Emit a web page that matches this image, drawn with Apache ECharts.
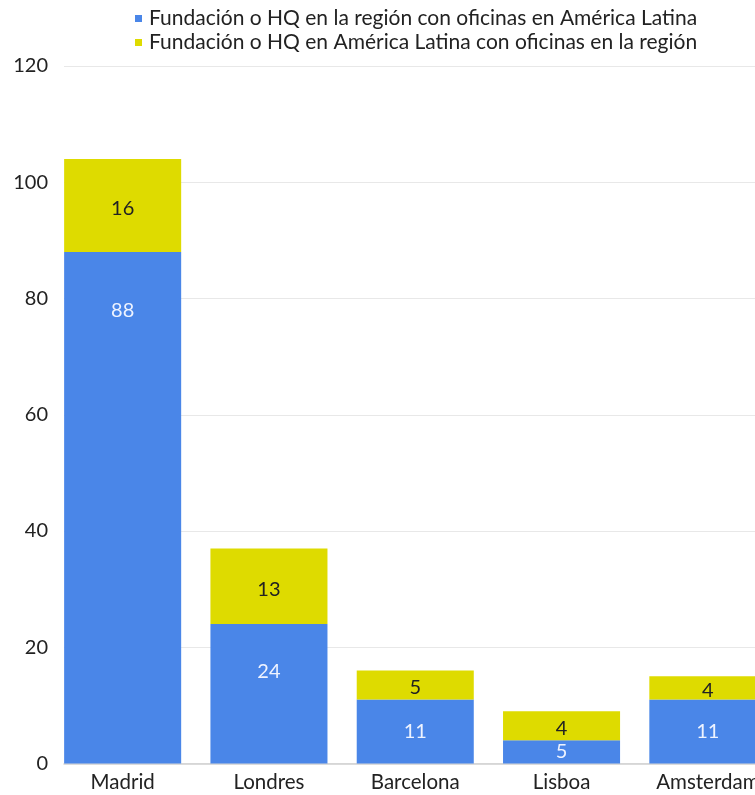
<!DOCTYPE html>
<html>
<head>
<meta charset="utf-8">
<script src="https://cdn.jsdelivr.net/npm/echarts@6/dist/echarts.min.js"></script>
<style>
html,body{margin:0;padding:0;overflow:hidden;background:#fff;width:755px;height:795px;}
#c{width:830px;height:795px;}
</style>
</head>
<body>
<div id="c"></div>
<script>
const categories = ['Madrid', 'Londres', 'Barcelona', 'Lisboa', 'Amsterdam'];
const seriesNames = ['Fundación o HQ en la región con oficinas en América Latina',
                     'Fundación o HQ en América Latina con oficinas en la región'];
const blueValues = [88, 24, 11, 4, 11];
const yellowValues = [16, 13, 5, 5, 4];
const blueLabels = ['88', '24', '11', '5', '11'];
const yellowLabels = ['16', '13', '5', '4', '4'];
const yTicks = [0, 20, 40, 60, 80, 100, 120];

const BLUE = '#4a86e8', YELLOW = '#dedb00';
const FONT = 'Lato';
// label vertical offsets for tall blue segments (styling only)
const blueLabelOffset = {Madrid: -197, Londres: -22};

const chart = echarts.init(document.getElementById('c'), null, {renderer: 'canvas'});
const gridTop = 66, gridBottom = 31.5;

const blueData = blueValues.map((v, i) => {
  const d = {value: v};
  const off = blueLabelOffset[categories[i]];
  if (off !== undefined) d.label = {offset: [0, off]};
  return d;
});

chart.setOption({
  animation: false,
  legend: {
    orient: 'vertical', left: 135, top: 8, padding: 0,
    itemWidth: 7, itemHeight: 7, itemGap: 3, icon: 'rect',
    textStyle: {fontFamily: FONT, fontSize: 21, color: '#222', lineHeight: 21, padding: [0, 0, 0, 2]},
    data: seriesNames
  },
  grid: [
    {left: 64, right: 0, top: gridTop, bottom: gridBottom},
    {left: 49.5, width: 731.5, top: gridTop, bottom: gridBottom}
  ],
  xAxis: [
    {type: 'value', gridIndex: 0, min: 0, max: 1, axisLine: {show: true, lineStyle: {color: '#cfcfcf', width: 1.5}},
     axisTick: {show: false}, axisLabel: {show: false}, splitLine: {show: false}},
    {type: 'category', gridIndex: 1, data: categories, axisLine: {show: false}, axisTick: {show: false},
     axisLabel: {fontFamily: FONT, fontSize: 20.5, color: '#222', margin: 8}}
  ],
  yAxis: [
    {type: 'value', gridIndex: 0, min: yTicks[0], max: yTicks[yTicks.length - 1], interval: 20,
     axisLine: {show: false}, axisTick: {show: false},
     axisLabel: {fontFamily: FONT, fontSize: 20, color: '#222', margin: 16},
     splitLine: {lineStyle: {color: '#e8e8e8', width: 1}}},
    {type: 'value', gridIndex: 1, min: yTicks[0], max: yTicks[yTicks.length - 1], interval: 20, show: false}
  ],
  series: [
    {name: seriesNames[0], type: 'bar', stack: 's', xAxisIndex: 1, yAxisIndex: 1,
     barCategoryGap: '20%', data: blueData, itemStyle: {color: BLUE},
     label: {show: true, position: 'inside', fontFamily: FONT, fontSize: 20, color: '#eef3ff',
             formatter: p => blueLabels[p.dataIndex]}},
    {name: seriesNames[1], type: 'bar', stack: 's', xAxisIndex: 1, yAxisIndex: 1,
     barCategoryGap: '20%', data: yellowValues, itemStyle: {color: YELLOW},
     label: {show: true, position: 'inside', fontFamily: FONT, fontSize: 20, color: '#222', offset: [0, 3],
             formatter: p => yellowLabels[p.dataIndex]}}
  ]
});
</script>
</body>
</html>
